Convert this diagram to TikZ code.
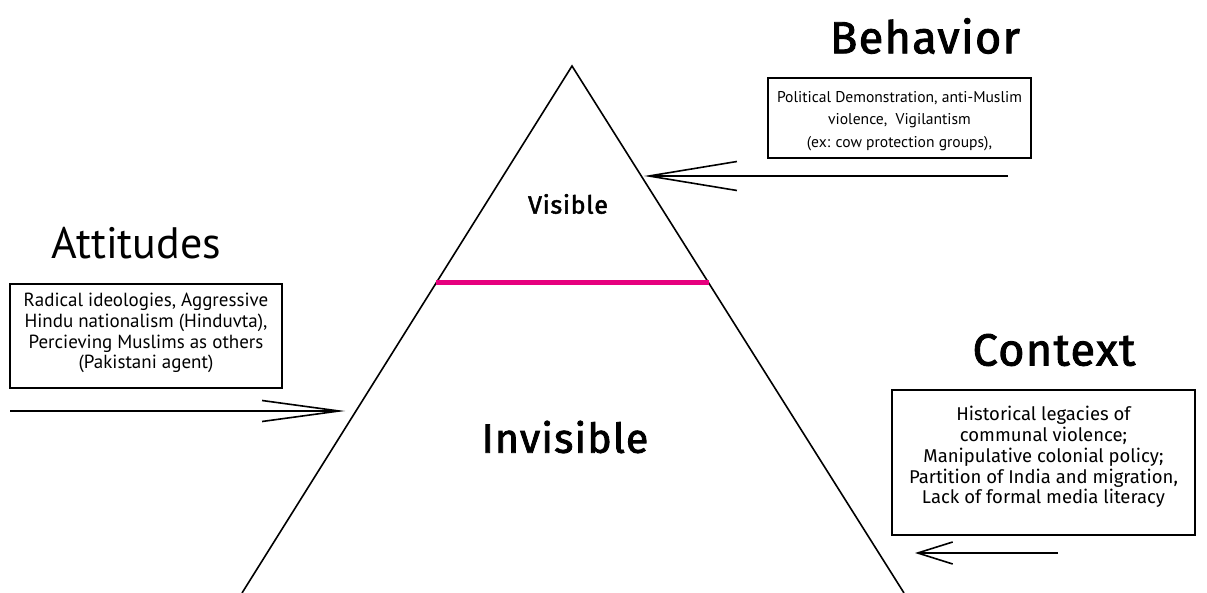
\documentclass[tikz,border=0pt]{standalone}
\usepackage{fontspec}
\setmainfont{PT Sans}
\newfontfamily\dinfont{Fira Sans}
\newfontfamily\dinmed{Fira Sans}[LetterSpace=3,FakeBold=2]
\usetikzlibrary{arrows.meta}
\definecolor{pinkline}{HTML}{E6007E}
\begin{document}
\begin{tikzpicture}[x=1pt,y=-1pt,
  box/.style={draw,line width=1.5pt,inner sep=0pt},
  boxtext/.style={inner sep=0pt,align=center},
  heading/.style={font=\dinmed\fontsize{45}{50}\selectfont},
  conn/.style={line width=1.6pt}]
\useasboundingbox (0,0) rectangle (1207,593);
% triangle
\coordinate (apex) at (572,66);
\coordinate (bl) at (242,593);
\coordinate (br) at (904,593);
\draw[line width=1.6pt,line join=miter] (bl) -- (apex) -- (br);
\coordinate (pl) at (436,282.5);
\coordinate (pr) at (709,282.5);
\draw[pinkline,line width=5pt] (pl) -- (pr);
\node[font=\dinmed\fontsize{25}{28}\selectfont] (vis) at (568,204) {Visible};
\node[font=\dinmed\fontsize{41}{44}\selectfont] (invis) at (565,437) {Invisible};
% headings
\node[heading] (beh) at (925,36) {Behavior};
\node[font=\fontsize{44}{50}\selectfont] (att) at (136,243) {Attitudes};
\node[heading] (ctx) at (1054,350) {Context};
% boxes
\node[box,minimum width=263pt,minimum height=80pt] (behbox) at (899.5,118) {};
\node[boxtext,font=\fontsize{15.6}{22.5}\selectfont] (behtext) at (899.5,121)
  {Political Demonstration, anti-Muslim\\violence,\ \ Vigilantism\\(ex: cow protection groups),};
\node[box,minimum width=272pt,minimum height=104pt] (attbox) at (146,336) {};
\node[boxtext,font=\fontsize{19}{20.8}\selectfont] (atttext) at (146,333)
  {Radical ideologies, Aggressive\\Hindu nationalism (Hinduvta),\\Percieving Muslims as others\\(Pakistani agent)};
\node[box,minimum width=303pt,minimum height=145pt] (ctxbox) at (1043.5,462.5) {};
\node[boxtext,font=\dinfont\fontsize{18.5}{20.8}\selectfont] (ctxtext) at (1043.5,457)
  {Historical legacies of\\communal violence;\\Manipulative colonial policy;\\Partition of India and migration,\\Lack of formal media literacy};
% arrows
\coordinate (b1) at (1008,176);
\coordinate (b2) at (644,176);
\draw[conn,-{Straight Barb[length=88pt,width=29pt,line width=1.6pt]}] (b1) -- (b2);
\coordinate (a1) at (10,411);
\coordinate (a2) at (345,411);
\draw[conn,-{Straight Barb[length=77pt,width=21pt,line width=1.6pt]}] (a1) -- (a2);
\coordinate (c1) at (1058,553);
\coordinate (c2) at (915,553);
\draw[conn,-{Straight Barb[length=35pt,width=22pt,line width=1.6pt]}] (c1) -- (c2);
\end{tikzpicture}
\end{document}
